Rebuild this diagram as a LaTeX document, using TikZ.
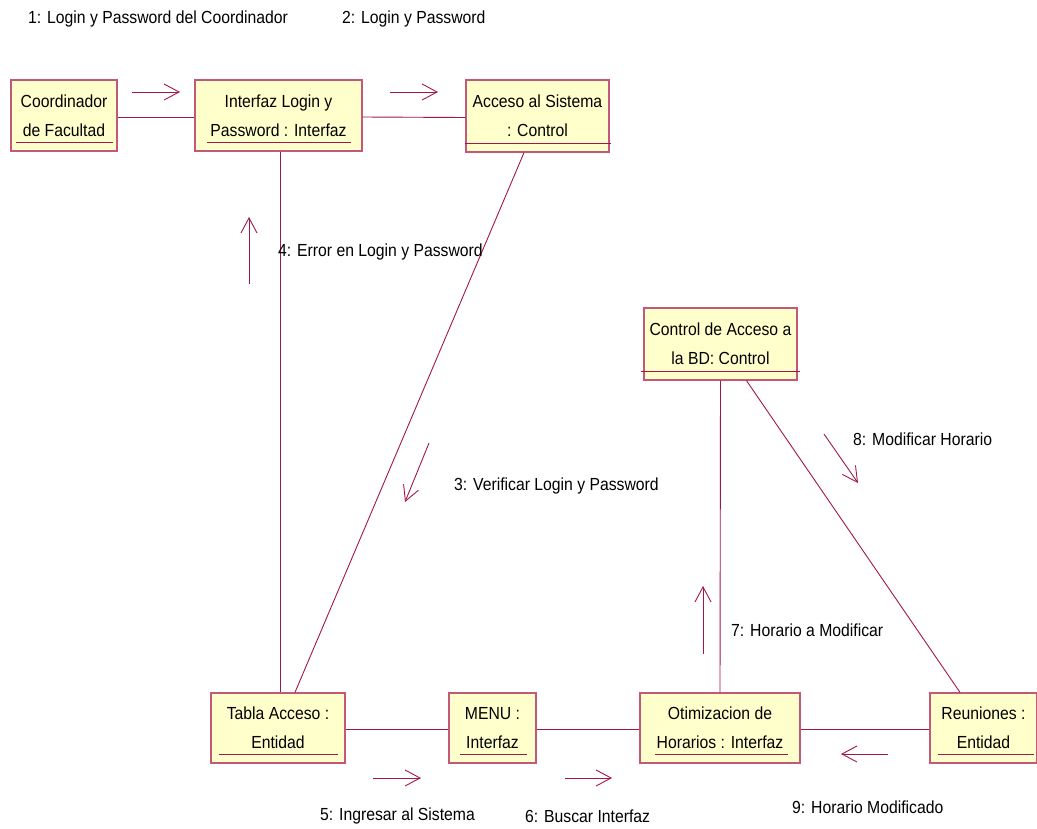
\documentclass[tikz,border=0pt]{standalone}
\usepackage{fontspec}
\setmainfont{Liberation Sans}[FakeStretch=0.9]
\usetikzlibrary{arrows.meta}

\definecolor{objfill}{RGB}{255,255,204}
\definecolor{objline}{RGB}{196,88,120}
\definecolor{linkc}{RGB}{163,22,74}

\tikzset{
  obj/.style={draw=objline, fill=objfill, line width=1.3pt, align=center,
    inner sep=0pt, font=\fontsize{17.5}{29}\selectfont},
  ulin/.style={draw=linkc, line width=1pt},
  link/.style={draw=linkc, line width=0.9pt},
  msg/.style={draw=linkc, line width=0.9pt, -{Straight Barb[length=15pt,width=16pt]}},
  lbl/.style={anchor=west, inner sep=0pt, font=\fontsize{17.5}{19}\selectfont},
}

% object box: name, left, top, right, bottom, text, underline insets (left, right)
\newcommand\umlobj[8]{%
  \node[obj, minimum width={(#4-#2)*1pt}, minimum height={(#5-#3)*1pt}]
    (#1) at ({(#2+#4)/2},{(#3+#5)/2}) {#6};
  \draw[ulin] ([xshift=#7pt,yshift=9pt]#1.south west) --
              ([xshift=-#8pt,yshift=9pt]#1.south east);
}

\begin{document}
\begin{tikzpicture}[x=1pt,y=-1pt]
\useasboundingbox (0,0) rectangle (1037,828);

% objects
\umlobj{coord}{11}{80}{117}{151}{Coordinador\\de Facultad}{6}{5}
\umlobj{iface}{195}{80}{362}{151}{Interfaz Login y\\Password : Interfaz}{13}{12}
\umlobj{acc}{466}{80}{609}{152}{Acceso al Sistema\\: Control}{0}{-1}
\umlobj{ctl}{644}{308}{797}{380}{Control de Acceso a\\la BD: Control}{-2}{-2}
\umlobj{tabla}{211}{693}{345}{763}{Tabla Acceso :\\Entidad}{9}{8}
\umlobj{menu}{449}{693}{536}{763}{MENU :\\Interfaz}{12}{10}
\umlobj{opt}{640}{693}{800}{763}{Otimizacion de\\Horarios : Interfaz}{16}{13}
\umlobj{reu}{930}{693}{1037}{763}{Reuniones :\\Entidad}{9}{4}

% links between objects
\draw[link] ([yshift=-1.5pt]coord.east) -- ([yshift=-1.5pt]iface.west);
\draw[link] ([yshift=-1.5pt]iface.east) -- ([yshift=-1.5pt]acc.west);
\draw[link] ([xshift=1.5pt]iface.south) -- ([xshift=2pt]tabla.north);
\draw[link] ([xshift=-13.5pt]acc.south) -- ([xshift=17pt]tabla.north);
\draw[link] ([yshift=-1pt]tabla.east) -- ([yshift=-1pt]menu.west);
\draw[link] ([yshift=-1pt]menu.east) -- ([yshift=-1pt]opt.west);
\draw[link] ([yshift=-1pt]opt.east) -- ([yshift=-1pt]reu.west);
\draw[link] (ctl.south) -- (opt.north);
\draw[link] ([xshift=26pt]ctl.south) -- ([xshift=-23.5pt]reu.north);

% message arrows
\coordinate (m1a) at (132,92);  \coordinate (m1b) at (180,92);
\coordinate (m2a) at (390,92);  \coordinate (m2b) at (438,92);
\coordinate (m3a) at (429,443); \coordinate (m3b) at (405,502);
\coordinate (m4a) at (249,284); \coordinate (m4b) at (249,217);
\coordinate (m5a) at (373,778); \coordinate (m5b) at (421,778);
\coordinate (m6a) at (565,778); \coordinate (m6b) at (612,778);
\coordinate (m7a) at (703,654); \coordinate (m7b) at (703,586);
\coordinate (m8a) at (824,434); \coordinate (m8b) at (858,483);
\coordinate (m9a) at (888,754); \coordinate (m9b) at (841,754);
\foreach \m in {1,...,9} \draw[msg] (m\m a) -- (m\m b);

% message labels
\node[lbl] (l1) at (28,19)  {1: Login y Password del Coordinador};
\node[lbl] (l2) at (342,19) {2: Login y Password};
\node[lbl] (l3) at (454,486) {3: Verificar Login y Password};
\node[lbl] (l4) at (278,252) {4: Error en Login y Password};
\node[lbl] (l5) at (320,816) {5: Ingresar al Sistema};
\node[lbl] (l6) at (525,816) {6: Buscar Interfaz};
\node[lbl] (l7) at (731,630) {7: Horario  a Modificar};
\node[lbl] (l8) at (853,439) {8: Modificar Horario};
\node[lbl] (l9) at (792,807) {9: Horario Modificado};
\end{tikzpicture}
\end{document}
